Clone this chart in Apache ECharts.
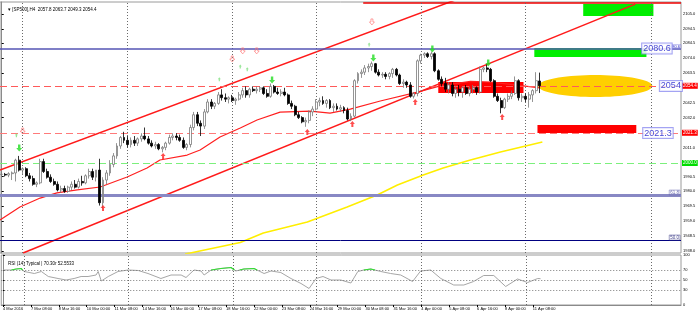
<!DOCTYPE html>
<html><head><meta charset="utf-8">
<script src="https://cdn.jsdelivr.net/npm/echarts@6/dist/echarts.min.js"></script>
<style>html,body{margin:0;padding:0;background:#fff}#c{width:700px;height:315px}</style>
</head><body><div id="c"></div>
<script>
// ---------- DATA ----------
const timeLabels = ["4 Mar 2016","7 Mar 08:00","8 Mar 16:00","10 Mar 00:00","11 Mar 08:00","14 Mar 16:00","16 Mar 00:00","17 Mar 08:00","18 Mar 16:00","22 Mar 00:00","23 Mar 08:00","24 Mar 16:00","29 Mar 00:00","30 Mar 08:00","31 Mar 16:00","4 Apr 00:00","5 Apr 08:00","6 Apr 16:00","8 Apr 00:00","11 Apr 08:00"];
// [open, high, low, close] per H4 bar
const ohlc = [
[1992,1994,1990,1992],[1992,1993,1990.5,1991.5],[1991.5,1993.5,1990,1992.5],[1992.5,1994,1988,1993],[1993,2003,1987,2002],
[2002,2005,1994,1995],[1995,1997,1992,1996],[1996,1997,1990,1991],[1991,1993,1987,1989],[1989,1991,1984,1985],
[1985,1987,1983,1986],[1986,2003,1985,2001],[2001,2003,1993,1994],[1994,1996,1989,1990],[1990,1992,1986,1987],
[1987,1989,1984,1985],[1985,1987,1980,1981],[1981,1984,1979,1982],[1982,1984,1979,1980],[1980,1984,1979,1983],
[1983,1987,1981,1985],[1985,1988,1982,1983],[1983,1989,1982,1987],[1987,1991,1984,1986],[1986,1992,1985,1991],
[1991,1996,1989,1994],[1994,1996,1988,1990],[1990,1995,1987,1995],[1995,2003,1970,1972],[1972,1990,1968,1988],
[1988,1995,1985,1993],[1993,2002,1991,1999],[1999,2007,1997,2005],[2005,2014,2003,2012],[2012,2019,2010,2018],
[2018,2022,2014,2016],[2016,2019,2011,2013],[2013,2018,2011,2016],[2016,2019,2012,2014],[2014,2018,2012,2017],
[2017,2021,2015,2019],[2019,2025,2016,2017],[2017,2019,2013,2014],[2014,2016,2011,2012],[2012,2015,2010,2013],
[2013,2014,2009,2010],[2010,2012,2007.5,2011],[2011,2015,2009,2014],[2014,2020,2013,2018],[2018,2021,2016,2019],
[2019,2021,2016,2018],[2018,2020,2015,2016],[2016,2018,2010,2011],[2011,2014,2009,2013],[2013,2027,2011,2025],
[2025,2036,2023,2034],[2034,2036,2026,2028],[2028,2030,2019,2026],[2026,2038,2024,2036],[2036,2045,2035,2043],
[2043,2045,2038,2040],[2040,2043,2038,2042],[2042,2050,2041,2048],[2048,2052,2044,2046],[2046,2049,2043,2045],
[2045,2047,2042,2046],[2046,2048,2043,2044],[2044,2046,2041,2045],[2045,2050,2044,2048],[2048,2053,2046,2051],
[2051,2054,2046,2048],[2048,2053,2046,2052],[2052,2054,2050,2051],[2051,2054,2049,2052],[2052,2054,2050,2053],
[2053,2054,2048,2049],[2049,2052,2046,2047],[2047,2056,2046,2054],[2054,2055,2049,2050],[2050,2053,2048,2049],
[2049,2052,2047,2050],[2050,2053,2047,2048],[2048,2049,2041,2042],[2042,2044,2038,2040],[2040,2041,2033,2034],
[2034,2036,2031,2032],[2032,2033,2028,2029],[2029,2032,2025.5,2030],[2030,2037,2028,2036],[2036,2040,2033,2038],
[2038,2045,2037,2043],[2043,2046,2040,2044],[2044,2047,2041,2042],[2042,2045,2039,2044],[2044,2045,2038,2039],
[2039,2042,2036,2040],[2040,2042,2037,2038],[2038,2041,2036,2039],[2039,2040,2035,2037],[2037,2039,2030,2031],
[2031,2035,2029.5,2033],[2033,2059,2032,2058],[2058,2064,2056,2063],[2063,2066,2060,2064],[2064,2069,2062,2067],
[2067,2070,2064,2068],[2068,2071.5,2065,2070],[2070,2070.5,2063,2064],[2064,2066,2061,2062],[2062,2064,2060,2062.5],
[2062.5,2064,2059,2061],[2061,2064,2059,2063],[2063,2067,2060,2066],[2066,2067,2061,2062],[2062,2063,2055,2056],
[2056,2059,2053,2057],[2057,2058,2053,2055],[2055,2057,2046,2047],[2047,2050,2045.5,2049],[2049,2073,2047,2072],
[2072,2077,2070,2076],[2076,2078,2074,2077],[2077,2078,2074,2075],[2075,2078.5,2073,2077],[2077,2078,2064,2065],
[2065,2066,2058,2059],[2059,2061,2054,2056],[2056,2060,2050,2052],[2052,2057,2049,2055],[2055,2057,2047,2049],
[2049,2054,2046,2052],[2052,2055,2047,2050],[2050,2054,2046,2053],[2053,2055,2048,2049],[2049,2054,2047,2052],
[2052,2055,2049,2053],[2053,2054,2048,2050],[2050,2068,2049,2066],[2066,2068,2064,2067],[2067,2069.5,2064,2066],
[2066,2067,2057,2058],[2058,2059,2046,2047],[2047,2049,2043,2044],[2044,2046,2035,2039],[2039,2046,2038,2045],
[2045,2049,2043,2047],[2047,2051,2045,2049],[2049,2061,2048,2058],[2058,2059,2044,2046],[2046,2049,2043,2047],
[2047,2049,2043,2045],[2045,2050,2039,2048],[2048,2052,2043,2051],[2051,2064,2049,2058],[2057.8,2063.7,2049.3,2054.4]
];
const priceTicks = [2105.0,2094.5,2084.5,2074.0,2063.5,2042.5,2032.0,2011.0,1990.5,1980.0,1969.5,1959.0,1948.5,1938.0];
const rsiTicks = [0,30,50,70,100];
const rsiLevels = [30,50,70];
// [bar index, RSI]
const rsi = [[0,70],[2.4,70],[3.8,72],[5.2,73],[6.1,67],[9,63],[11,67],[13,57],[15.8,53],[18.1,50],[20.4,53],[22.4,57],[24.4,57],[26.7,60],[27.3,67],[28.2,48],[30.2,57],[33,67],[35.9,70],[38.8,69],[41.6,63],[45.3,53],[48.2,60],[51.1,60],[52.5,55],[54.8,70],[56.8,68],[57.7,60],[59.7,70],[62.5,73],[65.4,75],[66.8,68],[69.1,72],[72,73],[74.9,63],[76.9,68],[79.7,65],[82.6,53],[85.5,43],[87.8,33],[89.8,53],[91.8,57],[94.1,50],[96.9,50],[99.8,44],[101.8,67],[103.5,70],[105.5,72],[108.4,67],[111.2,63],[114.1,60],[117.5,47],[119.8,68],[122.7,70],[125.6,53],[129.3,40],[132.2,40],[135,47],[137.9,59],[140.8,59],[144.2,37],[147.6,52],[150.5,45],[153.4,53],[154.2,52.6]];
// overbought stretches (RSI above 70), drawn green
const rsiHigh = [[2.4,70],[3.8,72],[5.2,73],[5.6,70],null,[59.7,70],[62.5,73],[65.4,75],[66.4,70],null,[67.9,70],[69.1,72],[72,73],[72.9,70],null,[103.5,70],[105.5,72],[106.7,70]];
// moving averages [bar index, price]
const maRed = [[-0.5,1959.8],[5.2,1969],[11,1975.3],[15.8,1978.9],[21.6,1981],[28.2,1983.1],[35.9,1990.1],[41.6,1996.5],[45.3,2002.1],[53.1,2005.6],[56.8,2009.2],[62.5,2018.3],[68.3,2024.7],[73.1,2030.3],[79.7,2035.9],[88.3,2036.6],[94,2035.2],[99.8,2038],[108.4,2043.7],[119,2050],[125.6,2054.3],[134.2,2057.5],[140,2057],[147,2055],[154,2053]];
const maYellow = [[52.5,1935.9],[54,1936.6],[68.3,1944.0],[74.9,1950.7],[87.5,1958.4],[98.9,1969.0],[107.5,1977.5],[113.3,1984.5],[120.7,1991.5],[126.4,1996.5],[134.2,2002.1],[142.8,2007.7],[154.8,2014.8]];
// trend channel lines [bar index, price]
const chanUpper = [[-0.5,1995.1],[130,2115]];
const chanLower = [[6.1,1936.6],[181.4,2112.0]];
const topLine = [[103.5,2112.75],[194.5,2112.75]];
// horizontal levels
const levelBlue = 2080.6, levelBid = 2054.4, levelRed = 2021.3, levelGreen = 2000.0, fib618 = 1977.4, fib500 = 1945.7;
// weekly separators (bar index)
const separators = [6,36,66,90,120,150,186];
// zones [idxFrom, idxTo, priceA, priceB]
const greenZones = [[166.5,186.6,2112.0,2103.6],[152.5,184.6,2081.0,2074.7]];
const redZones = [[125,149.4,2057.1,2049.3],[153.4,181.7,2026.8,2021.1]];
const goldEllipse = [[153.6,186.3,2062.0,2046.5]];
// fractal / signal markers [bar index, price]
const fractalUp = [[5,2010.6],[77.4,2058.5],[106.4,2074.0],[123.3,2080.3],[139.3,2070.5]];
const fractalDown = [[29,1968.3],[46.2,2004.9],[87.5,2021.8],[100.4,2027.5],[118.4,2043.0],[143.3,2032.4]];
const pinkSignals = [[6,2022.5],[66,2073.3],[69,2079],[73,2079],[106,2099.4]];
const greenSignals = [[4.2,2019.6],[62.3,2059],[68.3,2068],[70.3,2066],[105.2,2083.5]];
// text boxes [bar index, price, text]
const textBoxes = [[187.6,2080.7,"2080.6"],[191.6,2054.3,"2054"],[187.9,2021.1,"2021.3"]];

// ---------- CHART ----------
const N = 195;
const cats = Array.from({length:N},(_,i)=>String(i));
const FONT = 'Liberation Sans';
const lblInterval = (i)=> i%8===0 && i/8 < timeLabels.length;

function boxSeries(data, color, z){
  return {type:'custom', xAxisIndex:1, yAxisIndex:0, z:z, silent:true, clip:true, data:data,
    renderItem:(p, api)=>{
      const a = api.coord([api.value(0), api.value(2)]);
      const b = api.coord([api.value(1), api.value(3)]);
      return {type:'rect', shape:{x:Math.min(a[0],b[0]), y:Math.min(a[1],b[1]), width:Math.abs(b[0]-a[0]), height:Math.abs(b[1]-a[1])}, style:{fill:color}};
    }};
}
function lineSeries(data, color, width, z, xi, yi){
  return {type:'line', xAxisIndex:xi===undefined?1:xi, yAxisIndex:yi||0, data:data, symbol:'none', smooth:false, clip:true, z:z, silent:true,
    connectNulls:false, lineStyle:{color:color, width:width}};
}
const arrowDown = 'path://M3,0 L7,0 L7,5 L10,5 L5,10 L0,5 L3,5 Z';
const arrowUp = 'path://M5,0 L10,5 L7,5 L7,10 L3,10 L3,5 L0,5 Z';
function marker(data, sym, size, style, z){
  return {type:'scatter', xAxisIndex:1, yAxisIndex:0, data:data, symbol:sym, symbolSize:size, itemStyle:style, z:z, silent:true};
}
const hl = (v, color, width, type, label)=>({yAxis:v, lineStyle:{color:color, width:width, type:type}, label: label || {show:false}});
const vl = (v)=>({xAxis:v, lineStyle:{color:'#6a6a6a', width:1, type:[1,2]}, label:{show:false}});
const tag = (txt, bg, fg)=>({show:true, position:'end', distance:1, formatter:txt, backgroundColor:bg, color:fg, fontSize:4.5, fontFamily:FONT, padding:[1,1,0,1]});
const fibLbl = (txt, col)=>({show:true, position:'insideEndTop', distance:[1,0], formatter:txt, color:col, fontSize:4.5, fontFamily:FONT, borderColor:col, borderWidth:0.5, padding:[0,1]});

const series = [
  boxSeries(greenZones, '#00ee00', 1),
  boxSeries(redZones, '#ff0000', 1),
  {type:'custom', xAxisIndex:1, yAxisIndex:0, z:2, silent:true, data:goldEllipse,
    renderItem:(p, api)=>{
      const a = api.coord([api.value(0), api.value(2)]);
      const b = api.coord([api.value(1), api.value(3)]);
      const cx=(a[0]+b[0])/2, cy=(a[1]+b[1])/2, rx=Math.abs(b[0]-a[0])/2, ry=Math.abs(b[1]-a[1])/2;
      const pts=[]; for(let k=0;k<72;k++){const t=k/72*2*Math.PI; pts.push([cx+rx*Math.cos(t), cy+ry*Math.sin(t)]);}
      return {type:'polygon', shape:{points:pts}, style:{fill:'#ffcf00'}};
    }},
  {type:'line', xAxisIndex:1, yAxisIndex:0, data:[], z:3, silent:true,
    markLine:{symbol:['none','none'], silent:true, animation:false, precision:2,
      data:[
        ...separators.map(vl),
        hl(levelBlue,'#5454b4',1.5,'solid', {show:true, position:'insideEndTop', distance:[0,0], formatter:'2080.6', color:'#2020c0', fontSize:4, fontFamily:FONT, borderColor:'#8080e0', borderWidth:0.5, padding:[0,1]}),
        hl(levelBid,'#ff5a5a',1,[7,4], tag('2054.4','#ff0000','#ffffff')),
        hl(levelRed,'#ff7a7a',1,[7,4], tag('2021.3','#ff0000','#ffffff')),
        hl(levelGreen,'#7cf07c',1,[7,4], tag('2000.0','#00dd00','#ffffff')),
        hl(fib618,'#8888c4',3,'solid', fibLbl('61.8','#6a6ab0')),
        hl(fib500,'#000080',1,'solid', fibLbl('50.0','#40408a'))
      ]}},
  lineSeries(maYellow, '#ffee00', 1.6, 3),
  lineSeries(maRed, '#ff2020', 1.2, 3),
  lineSeries(chanUpper, '#ff1a1a', 1.5, 3),
  lineSeries(chanLower, '#ff1a1a', 1.5, 3),
  lineSeries(topLine, '#ee0000', 1.6, 3),
  {type:'candlestick', xAxisIndex:0, yAxisIndex:0, z:5, silent:true, barWidth:2.4,
    data: ohlc.map(d=>[d[0], d[3], d[2], d[1]]),
    itemStyle:{color:'#ffffff', color0:'#000000', borderColor:'#7a7a7a', borderColor0:'#000000', borderWidth:0.8}},
  marker(fractalUp, arrowDown, [6,7], {color:'#22dd22'}, 6),
  marker(fractalDown, arrowUp, [5,6], {color:'#ff2020'}, 6),
  marker(pinkSignals, arrowDown, [5,6], {color:'rgba(255,255,255,0)', borderColor:'#ff7070', borderWidth:0.8}, 6),
  marker(greenSignals, arrowUp, [3,4], {color:'#7ee07e'}, 6),
  {type:'scatter', xAxisIndex:1, yAxisIndex:0, z:8, silent:true, symbolSize:1, itemStyle:{color:'rgba(0,0,0,0)'},
    data: textBoxes.map(t=>({value:[t[0],t[1]], name:t[2]})),
    label:{show:true, position:'inside', formatter:'{b}', fontSize:9, fontFamily:FONT, color:'#1010c8', backgroundColor:'#ffffff', borderColor:'#8c8cf0', borderWidth:1, padding:[1,1,0,1]}},
  // RSI panel
  {type:'line', xAxisIndex:3, yAxisIndex:1, data:[], z:2, silent:true,
    markLine:{symbol:['none','none'], silent:true, animation:false,
      data:[
        ...rsiLevels.map(v=>({yAxis:v, lineStyle:{color:'#7a7a7a', width:1, type:[1,2]}, label:{show:false}})),
        ...separators.map(vl)
      ]}},
  lineSeries(rsi, '#a6a6a6', 1, 4, 3, 1),
  lineSeries(rsiHigh, '#33dd33', 1.2, 5, 3, 1)
];

const option = {
  animation:false,
  backgroundColor:'#ffffff',
  textStyle:{fontFamily:FONT},
  title:[
    {text:'\u25BE [SP500],H4  2057.8 2063.7 2049.3 2054.4', left:3, top:2, textStyle:{fontSize:4.5, fontWeight:'normal', color:'#000', fontFamily:FONT}},
    {text:'RSI (14) Typical | 70.30r 52.5533', left:3, top:256, textStyle:{fontSize:4.5, fontWeight:'normal', color:'#000', fontFamily:FONT}}
  ],
  grid:[
    {left:0, right:19, top:2, height:251, show:true, borderColor:'#9a9a9a', borderWidth:1, backgroundColor:'#fff'},
    {left:0, right:19, top:255, height:50, show:true, borderColor:'#9a9a9a', borderWidth:1, backgroundColor:'#fff'}
  ],
  xAxis:[
    {type:'category', gridIndex:0, data:cats, boundaryGap:true, show:false},
    {type:'value', gridIndex:0, min:-0.5, max:N-0.5, show:false},
    {type:'category', gridIndex:1, data:cats, boundaryGap:true,
      axisLine:{show:true, lineStyle:{color:'#8a8a8a'}},
      axisTick:{show:true, interval:(i)=>lblInterval(i), length:2, alignWithLabel:true, lineStyle:{color:'#000'}},
      axisLabel:{interval:(i)=>lblInterval(i), formatter:(v,i)=>timeLabels[i/8]||'', align:'left', fontSize:4, margin:2, color:'#000', fontFamily:FONT}},
    {type:'value', gridIndex:1, min:-0.5, max:N-0.5, show:false}
  ],
  yAxis:[
    {type:'value', gridIndex:0, position:'right', min:1936.58, max:2113.46, splitLine:{show:false},
      axisLine:{show:true, lineStyle:{color:'#8a8a8a'}},
      axisTick:{show:true, length:2, customValues:priceTicks, lineStyle:{color:'#000'}},
      axisLabel:{customValues:priceTicks, formatter:(v)=>v.toFixed(1), fontSize:4, margin:2, color:'#000', fontFamily:FONT}},
    {type:'value', gridIndex:1, position:'right', min:0, max:100, splitLine:{show:false},
      axisLine:{show:true, lineStyle:{color:'#8a8a8a'}},
      axisTick:{show:true, length:2, customValues:rsiTicks, lineStyle:{color:'#000'}},
      axisLabel:{customValues:rsiTicks, fontSize:4, margin:2, color:'#000', fontFamily:FONT}}
  ],
  series:series
};
const chart = echarts.init(document.getElementById('c'));
chart.setOption(option);
</script>
</body></html>
